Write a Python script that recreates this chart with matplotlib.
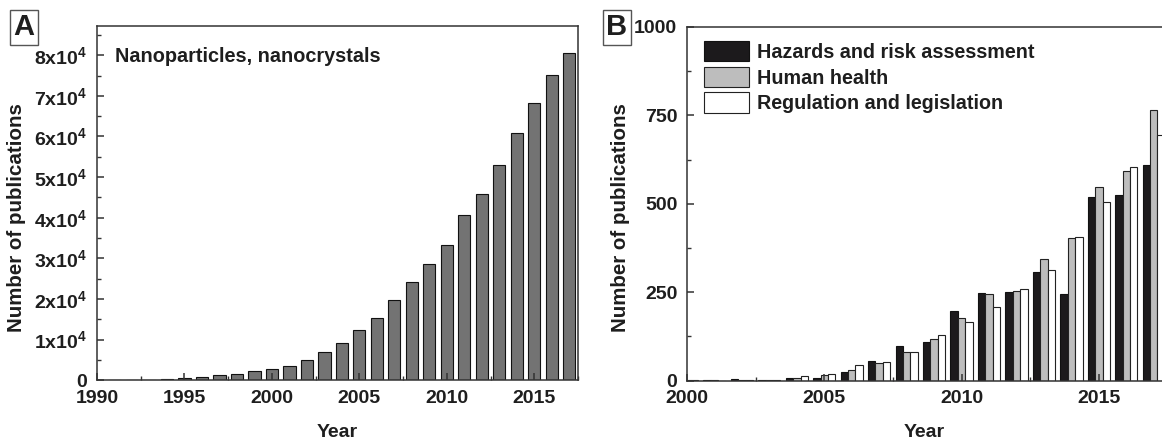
import numpy as np
import matplotlib
matplotlib.use("Agg")
import matplotlib.pyplot as plt
from matplotlib.ticker import MultipleLocator, FixedLocator, FixedFormatter

plt.rcParams["font.family"] = ["Liberation Sans", "DejaVu Sans"]
plt.rcParams["font.weight"] = "bold"
plt.rcParams["axes.labelweight"] = "bold"
plt.rcParams["mathtext.fontset"] = "custom"
plt.rcParams["mathtext.rm"] = "Liberation Sans:bold"
plt.rcParams["mathtext.bf"] = "Liberation Sans:bold"

# panel A: nanoparticles / nanocrystals publications per year
years_a = np.arange(1991, 2018)
pubs_a = [50, 100, 150, 250, 500, 740, 1150, 1600, 2200, 2800, 3600, 5000,
          7000, 9100, 12300, 15400, 19700, 24100, 28700, 33300, 40600, 45900,
          53000, 60900, 68300, 75100, 80600]

# panel B: three topics per year
years_b = np.arange(2000, 2018)
hazards = [2, 1, 4, 2, 6, 8, 24, 55, 98, 108, 197, 248, 251, 308, 246, 518, 526, 609]
health = [1, 1, 3, 2, 8, 15, 31, 51, 82, 117, 176, 244, 254, 345, 402, 547, 592, 764]
regulation = [1, 0, 2, 1, 13, 20, 45, 52, 82, 129, 167, 208, 260, 312, 406, 505, 603, 695]
series_b = ["Hazards and risk assessment", "Human health", "Regulation and legislation"]

ink = "#1e1e1e"
fig = plt.figure(figsize=(11.62, 4.41), dpi=100)


def style_axes(ax):
    for s in ax.spines.values():
        s.set_color("#333333")
        s.set_linewidth(1.1)
    ax.tick_params(which="both", direction="in", top=False, right=False,
                   colors="#333333", labelcolor=ink, labelsize=14)
    ax.tick_params(axis="x", pad=7)
    ax.tick_params(axis="y", pad=7)
    ax.tick_params(which="major", length=5, width=1.1)
    ax.tick_params(which="minor", length=3, width=1.0)
    ax.set_xlabel("Year", fontsize=14, color=ink, labelpad=12)


# ---- panel A ----
axA = fig.add_axes([0.0835, 0.138, 0.4139, 0.803])
axA.bar(years_a, pubs_a, width=0.7, color="#737373", edgecolor="#111111", linewidth=0.8)
axA.set_xlim(1990, 2017.5)
axA.set_ylim(0, 87200)
axA.xaxis.set_major_locator(MultipleLocator(5))
axA.xaxis.set_minor_locator(MultipleLocator(2.5))
yt = np.arange(0, 80001, 10000)
axA.yaxis.set_major_locator(FixedLocator(yt))
axA.yaxis.set_major_formatter(FixedFormatter(
    ["0"] + [r"$\mathbf{%dx10^4}$" % (v // 10000) for v in yt[1:]]))
axA.yaxis.set_minor_locator(MultipleLocator(5000))
style_axes(axA)
axA.text(0.038, 0.915, "Nanoparticles, nanocrystals", transform=axA.transAxes,
         fontsize=14.3, color=ink, va="center", ha="left")

# ---- panel B ----
axB = fig.add_axes([0.5912, 0.137, 0.4088, 0.802])
w = 0.27
axB.bar(years_b - w, hazards, width=w, color="#1c1a1c", edgecolor="#111111",
        linewidth=0.8, label=series_b[0])
axB.bar(years_b, health, width=w, color="#bdbdbd", edgecolor="#222222",
        linewidth=0.8, label=series_b[1])
axB.bar(years_b + w, regulation, width=w, color="white", edgecolor="#222222",
        linewidth=0.8, label=series_b[2])
axB.set_xlim(2000, 2017.3)
axB.set_ylim(0, 1000)
axB.xaxis.set_major_locator(MultipleLocator(5))
axB.xaxis.set_minor_locator(MultipleLocator(2.5))
axB.yaxis.set_major_locator(MultipleLocator(250))
axB.yaxis.set_minor_locator(MultipleLocator(125))
style_axes(axB)
axB.spines["right"].set_visible(False)
axB.legend(loc="upper left", bbox_to_anchor=(0.035, 0.96), frameon=False,
           fontsize=14.2, handlelength=2.3, handleheight=1.2, handletextpad=0.4,
           labelspacing=0.25, borderpad=0, borderaxespad=0, labelcolor=ink)

# y-axis titles and panel letters
fig.text(17 / 1162, 1 - 218 / 441, "Number of publications", rotation=90,
         fontsize=14.8, color=ink, ha="center", va="center")
fig.text(620 / 1162, 1 - 218 / 441, "Number of publications", rotation=90,
         fontsize=14.8, color=ink, ha="center", va="center")
box = dict(boxstyle="square,pad=0.12", facecolor="white", edgecolor="#555555", linewidth=1.0)
fig.text(24 / 1162, 1 - 27 / 441, "A", fontsize=21, color=ink, ha="center",
         va="center", bbox=box)
fig.text(617 / 1162, 1 - 27 / 441, "B", fontsize=21, color=ink, ha="center",
         va="center", bbox=box)

fig.savefig("out.png", dpi=100)
